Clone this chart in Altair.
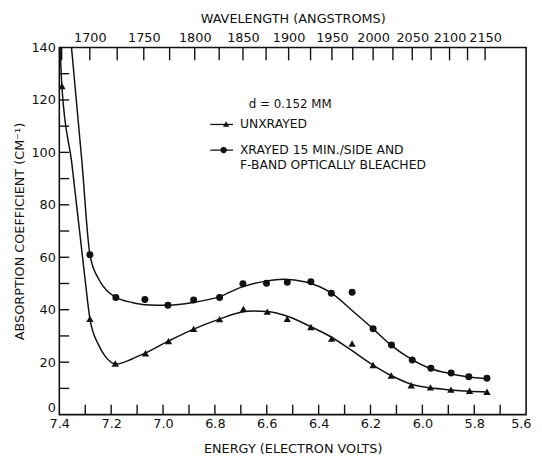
import altair as alt
import pandas as pd

FONT = "DejaVu Sans"
INK = "#111111"

# ---- data ----
# unxrayed sample (triangles)
tri_E = [7.390, 7.282, 7.184, 7.068, 6.979, 6.882, 6.782, 6.690, 6.598, 6.521,
         6.430, 6.350, 6.271, 6.190, 6.120, 6.043, 5.969, 5.890, 5.818, 5.751]
tri_v = [125.3, 36.5, 19.5, 23.4, 28.0, 32.7, 36.4, 40.3, 39.3, 36.5,
         33.4, 29.0, 27.1, 18.9, 14.9, 11.2, 10.4, 9.5, 9.1, 8.7]
# xrayed + bleached sample (circles)
cir_E = [7.282, 7.182, 7.070, 6.981, 6.882, 6.782, 6.692, 6.601, 6.521, 6.430,
         6.351, 6.271, 6.190, 6.119, 6.039, 5.967, 5.889, 5.821, 5.751]
cir_v = [61.0, 44.7, 43.9, 41.7, 43.7, 44.7, 49.9, 50.1, 50.5, 50.7,
         46.3, 46.7, 32.7, 26.5, 20.8, 17.7, 15.9, 14.4, 13.9]

# hand-drawn smooth curves (traced)
cu_E = [7.397, 7.390, 7.352, 7.300, 7.282, 7.248, 7.222, 7.180, 7.120, 7.068,
        6.980, 6.880, 6.780, 6.700, 6.650, 6.600, 6.520, 6.430, 6.350, 6.270,
        6.190, 6.120, 6.040, 5.970, 5.890, 5.820, 5.751]
cu_v = [140, 125, 96, 51, 36.5, 26.5, 22.1, 19.3, 21.2, 23.5,
        28.0, 32.7, 36.5, 39.0, 39.5, 39.3, 37.5, 33.5, 29.5, 24.3,
        18.9, 14.9, 11.5, 10.2, 9.4, 8.9, 8.6]
cx_E = [7.353, 7.313, 7.282, 7.248, 7.216, 7.182, 7.121, 7.070, 6.980, 6.882,
        6.782, 6.700, 6.600, 6.535, 6.450, 6.350, 6.270, 6.190, 6.120, 6.040,
        5.970, 5.890, 5.820, 5.751]
cx_v = [140, 96.6, 61.0, 51.6, 47.2, 44.7, 42.8, 41.9, 41.7, 42.8,
        45.0, 48.5, 51.0, 51.6, 50.6, 46.3, 39.6, 32.7, 26.4, 21.0,
        17.6, 15.6, 14.3, 13.7]

# axis ticks
energy_ticks = [7.4, 7.3, 7.2, 7.1, 7.0, 6.9, 6.8, 6.7, 6.6, 6.5, 6.4, 6.3,
                6.2, 6.1, 6.0, 5.9, 5.8, 5.7, 5.6]
wavelength_ticks = [1675, 1700, 1725, 1750, 1775, 1800, 1825, 1850, 1875, 1900,
                    1925, 1950, 1975, 2000, 2025, 2050, 2075, 2100, 2125, 2150]
HC = 12380.0  # eV*Angstrom conversion used by the drawing
y_ticks = [0, 10, 20, 30, 40, 50, 60, 70, 80, 90, 100, 110, 120, 130, 140]

labels = {
    "un": "UNXRAYED",
    "xr": ["XRAYED 15 MIN./SIDE  AND", "F-BAND OPTICALLY BLEACHED"],
    "d": "d = 0.152 MM",
}

tri = pd.DataFrame({"E": tri_E, "v": tri_v})
cir = pd.DataFrame({"E": cir_E, "v": cir_v})
cu = pd.DataFrame({"E": cu_E, "v": cu_v})
cx = pd.DataFrame({"E": cx_E, "v": cx_v})
one = pd.DataFrame({"a": [0]})
bt = pd.DataFrame({"tickE": energy_ticks[1:-1]})
tt = pd.DataFrame({"tickW": wavelength_ticks})
yt = pd.DataFrame({"v": y_ticks[1:-1]})

xs = alt.Scale(domain=[7.4, 5.6], nice=False, zero=False)
ys = alt.Scale(domain=[0, 140], nice=False, zero=False)

y_axis = alt.Axis(
    values=y_ticks, ticks=False,
    labelExpr="datum.value % 20 == 0 ? datum.value : ''",
    labelPadding=4, labelFontSize=13, labelOverlap=False, labelFlush=False,
    labelBaseline={"condition": {"test": "datum.value == 0", "value": "bottom"}, "value": "middle"},
    title="ABSORPTION COEFFICIENT (CM\u207B\u00B9)", titleFontSize=13,
    titlePadding=4,
)
Y = alt.Y("v:Q", scale=ys, axis=y_axis)

bottom_axis = alt.Axis(
    orient="bottom", values=energy_ticks, ticks=False,
    labelExpr="round(datum.value*10) % 2 == 0 ? format(datum.value, '.1f') : ''",
    labelAlign={"condition": {"test": "datum.value < 5.65", "value": "right"}, "value": "center"},
    labelOffset={"condition": {"test": "datum.value < 5.65", "value": 5}, "value": 0},
    labelPadding=3, labelFontSize=13, labelOverlap=False, labelFlush=False,
    title="ENERGY  (ELECTRON VOLTS)", titleFontSize=13, titlePadding=12,
)
top_axis = alt.Axis(
    orient="top", values=[HC / w for w in wavelength_ticks], ticks=False,
    labelExpr="round(%s/datum.value) %% 50 == 0 ? format(round(%s/datum.value), 'd') : ''" % (HC, HC),
    labelPadding=3, labelFontSize=13, labelOverlap=False, labelFlush=False,
    title="WAVELENGTH (ANGSTROMS)", titleFontSize=13, titlePadding=6,
)

# inward tick marks: rule segments whose ends are all fields on the scales
rule_kw = dict(color=INK, strokeWidth=1.4)
bt_rules = alt.Chart(bt).transform_calculate(
    xe="datum.tickE", ya="0", yb="3.8"
).mark_rule(**rule_kw).encode(
    x=alt.X("xe:Q", scale=xs, axis=None),
    y=alt.Y("ya:Q", scale=ys, axis=y_axis), y2="yb:Q")
tt_rules = alt.Chart(tt).transform_calculate(
    xe="%s / datum.tickW" % HC, ya="140", yb="135.1"
).mark_rule(**rule_kw).encode(
    x=alt.X("xe:Q", scale=xs, axis=None),
    y=alt.Y("ya:Q", scale=ys, axis=y_axis), y2="yb:Q")
yt_rules = alt.Chart(yt).transform_calculate(
    xa="7.4", xb="7.362"
).mark_rule(**rule_kw).encode(
    y=Y, x=alt.X("xa:Q", scale=xs, axis=None), x2="xb:Q")

line_kw = dict(color=INK, strokeWidth=1.5, interpolate="monotone", clip=True)

curve_un = alt.Chart(cu).mark_line(**line_kw).encode(
    x=alt.X("E:Q", scale=xs, axis=bottom_axis), y=Y)
curve_xr = alt.Chart(cx).mark_line(**line_kw).encode(
    x=alt.X("E:Q", scale=xs, axis=None), y=Y)
pts_tri = alt.Chart(tri).mark_point(
    filled=True, shape="triangle-up", size=55, color=INK, opacity=1, clip=True
).encode(x=alt.X("E:Q", scale=xs, axis=top_axis), y=Y)
pts_cir = alt.Chart(cir).mark_point(
    filled=True, shape="circle", size=50, color=INK, opacity=1, clip=True
).encode(x=alt.X("E:Q", scale=xs, axis=None), y=Y)

# legend drawn inside the plot
d_text = alt.Chart(one).mark_text(
    font=FONT, fontSize=12, color=INK, align="center", baseline="middle"
).encode(x=alt.value(234), y=alt.value(57), text=alt.value(labels["d"]))
leg_rule1 = alt.Chart(one).mark_rule(color=INK, strokeWidth=1.3).encode(
    x=alt.value(153), x2=alt.value(176), y=alt.value(78))
leg_pt1 = alt.Chart(one).mark_point(
    filled=True, shape="triangle-up", size=40, color=INK, opacity=1
).encode(x=alt.value(169), y=alt.value(77.5))
leg_txt1 = alt.Chart(one).mark_text(
    font=FONT, fontSize=12.5, color=INK, align="left", baseline="middle"
).encode(x=alt.value(183), y=alt.value(78), text=alt.value(labels["un"]))
leg_rule2 = alt.Chart(one).mark_rule(color=INK, strokeWidth=1.3).encode(
    x=alt.value(153), x2=alt.value(176), y=alt.value(104))
leg_pt2 = alt.Chart(one).mark_point(
    filled=True, shape="circle", size=40, color=INK, opacity=1
).encode(x=alt.value(166.5), y=alt.value(104))
leg_txt2a = alt.Chart(one).mark_text(
    font=FONT, fontSize=12.5, color=INK, align="left", baseline="middle"
).encode(x=alt.value(183), y=alt.value(104), text=alt.value(labels["xr"][0]))
leg_txt2b = alt.Chart(one).mark_text(
    font=FONT, fontSize=12.5, color=INK, align="left", baseline="middle"
).encode(x=alt.value(183), y=alt.value(119), text=alt.value(labels["xr"][1]))

chart = alt.layer(
    curve_un, curve_xr, pts_tri, pts_cir, bt_rules, tt_rules, yt_rules,
    d_text, leg_rule1, leg_pt1, leg_txt1, leg_rule2, leg_pt2, leg_txt2a, leg_txt2b,
).resolve_axis(x="independent").properties(
    width=473, height=372,
    autosize=alt.AutoSizeParams(type="none"),
    padding={"left": 52, "top": 37, "right": 8, "bottom": 44},
    background="white",
).configure_view(
    stroke=INK, strokeWidth=1.6
).configure_axis(
    domain=False, grid=False, labelFont=FONT, titleFont=FONT,
    labelColor=INK, titleColor=INK,
    titleFontWeight="normal", labelFontWeight="normal",
)

chart.save("out.html", embed_options={"renderer": "svg", "actions": False})
